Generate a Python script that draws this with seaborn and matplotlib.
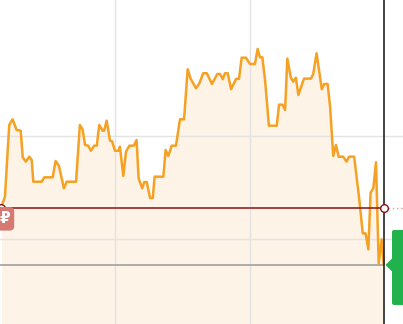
import matplotlib
matplotlib.use("Agg")
import matplotlib.pyplot as plt
import seaborn as sns
import pandas as pd
from matplotlib.patches import FancyBboxPatch, Polygon

# ---- data (time in minutes, price) ----
times = [549.6, 551.1, 553.0, 554.5, 556.3, 558.1, 559.0, 560.4, 561.9, 563.0,
         563.7, 567.4, 568.6, 572.3, 573.6, 575.1, 577.3, 578.5, 582.7, 584.4,
         585.6, 586.7, 588.1, 589.3, 590.8, 591.9, 593.0, 594.5, 595.2, 596.3,
         597.8, 598.7, 600.0, 601.6, 602.2, 603.7, 604.9, 606.4, 608.4, 609.6,
         610.5, 612.1, 613.0, 614.1, 615.6, 616.8, 617.6, 621.5, 622.5, 623.7,
         625.2, 627.1, 628.9, 630.7, 632.3, 633.6, 636.0, 637.5, 639.2, 640.8,
         643.1, 645.5, 646.7, 647.9, 648.9, 650.1, 651.6, 653.8, 655.1, 656.3,
         658.2, 660.0, 662.2, 663.4, 664.4, 665.5, 666.7, 668.4, 671.9, 672.9,
         674.4, 675.6, 676.6, 678.1, 679.2, 680.4, 681.5, 684.0, 687.1, 688.1,
         689.6, 691.9, 693.0, 694.5, 695.6, 697.0, 698.2, 699.4, 701.4, 702.9,
         704.0, 706.3, 708.6, 710.1, 711.4, 712.6, 713.6, 714.8, 716.0, 717.2,
         718.5, 719.4]
prices = [103.20, 104.11, 111.07, 111.62, 110.58, 110.52, 107.93, 107.51, 107.99, 107.67,
          105.56, 105.56, 105.99, 105.99, 107.57, 107.09, 104.92, 105.56, 105.56, 111.07,
          110.65, 109.13, 109.06, 108.57, 109.06, 109.06, 111.07, 110.52, 110.52, 111.49,
          109.54, 109.49, 108.57, 108.57, 108.96, 106.12, 108.48, 109.06, 109.06, 109.61,
          105.89, 104.92, 105.53, 105.53, 103.98, 103.98, 106.05, 106.05, 108.64, 108.06,
          109.06, 109.06, 111.62, 111.62, 116.48, 115.57, 114.63, 115.12, 116.09, 116.09,
          115.05, 116.02, 116.02, 115.51, 116.09, 116.09, 114.54, 115.54, 115.54, 117.60,
          117.60, 116.99, 116.99, 118.45, 117.64, 117.64, 115.44, 111.00, 111.00, 113.04,
          113.04, 112.53, 117.51, 115.70, 115.27, 115.66, 113.98, 115.57, 115.57, 116.02,
          118.03, 114.54, 115.05, 115.05, 112.85, 108.06, 109.13, 107.99, 107.99, 107.51,
          107.99, 107.99, 103.79, 100.55, 100.55, 99.00, 104.50, 104.92, 107.45, 97.64,
          99.97, 97.57]
prev_close = 103.01
current_price = 97.48
now_time = 719.6
grid_times = [600, 660]
grid_prices = [100, 110]
label_text = "\u20bd"

x_min, x_max = 548.9, 728.0
y_min, y_max = 91.75, 123.2

df = pd.DataFrame({"time": times, "price": prices})

sns.set_theme(style="white")
plt.rcParams['font.family'] = ['DejaVu Sans']

fig = plt.figure(figsize=(4.03, 3.24), dpi=100)
ax = fig.add_axes([0, 0, 1, 1])
ax.set_xlim(x_min, x_max)
ax.set_ylim(y_min, y_max)
for s in ax.spines.values():
    s.set_visible(False)
ax.set_xticks([])
ax.set_yticks([])

# area fill
ax.fill_between(df["time"], df["price"], y_min, color="#fdf3e6", lw=0, zorder=0.5)
ax.fill_between([df["time"].iloc[-1], now_time], [df["price"].iloc[-1]] * 2, y_min,
                color="#fdf3e6", lw=0, zorder=0.5)

# grid
for gt in grid_times:
    ax.axvline(gt, color="#e3e3e3", lw=1, zorder=1)
for gp in grid_prices:
    ax.axhline(gp, color="#e3e3e3", lw=1, zorder=1)

# current price line
ax.hlines(current_price, x_min, now_time, color="#a0a0a0", lw=1.2, zorder=1.5)

# price line
sns.lineplot(data=df, x="time", y="price", ax=ax, color="#f5a124", lw=1.8,
             zorder=3, estimator=None, sort=False)
ax.set_xlabel("")
ax.set_ylabel("")

# previous close line
ax.hlines(prev_close, x_min, now_time, color="#8b1010", lw=1.1, zorder=4)
ax.hlines(prev_close, now_time, x_max, color="#d8a0a0", lw=1, ls=(0, (1, 2)), zorder=4)
ax.plot([times[0] - 0.3, now_time], [prev_close, prev_close], ls="none", marker="o",
        ms=5.5, mfc="white", mec="#8b1010", mew=1, zorder=5)

# now line
ax.axvline(now_time, color="#111111", lw=1.1, zorder=4)

# left label
ax.text(x_min - 0.3, prev_close - 1.05, label_text, color="white", fontsize=11,
        fontweight="bold", ha="left", va="center", zorder=7,
        bbox=dict(boxstyle="round,pad=0.28,rounding_size=0.3", fc="#d47a72", ec="none"))

# right green badge
dx = (x_max - x_min) / 403.0
dy = (y_max - y_min) / 324.0
badge = FancyBboxPatch((x_min + 392 * dx, current_price - 40 * dy), 20 * dx, 75 * dy,
                       boxstyle="round,pad=0,rounding_size=0.9", fc="#21b24d", ec="none",
                       zorder=6, mutation_aspect=dy / dx)
ax.add_patch(badge)
arrow = Polygon([(x_min + 385.5 * dx, current_price),
                 (x_min + 392.5 * dx, current_price + 7 * dy),
                 (x_min + 392.5 * dx, current_price - 7 * dy)],
                closed=True, fc="#21b24d", ec="none", zorder=6)
ax.add_patch(arrow)

fig.savefig("out.png", dpi=100)
